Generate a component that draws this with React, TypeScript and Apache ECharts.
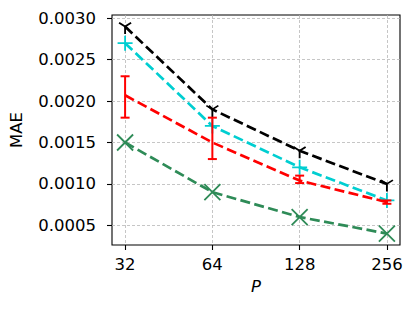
import React, { useEffect, useRef } from "react";
import * as echarts from "echarts";

const P = [32, 64, 128, 256];
const blackVals = [0.0029, 0.0019, 0.0014, 0.001];
const cyanVals = [0.0027, 0.0017, 0.0012, 0.0008];
const redVals = [0.00207, 0.0015, 0.00104, 0.00078];
const redLow = [0.0018, 0.0013, 0.00101, 0.00076];
const redHigh = [0.0023, 0.0018, 0.0011, 0.0008];
const greenVals = [0.0015, 0.0009, 0.0006, 0.0004];
const yTicks = [0.0005, 0.001, 0.0015, 0.002, 0.0025, 0.003];

const FONT = "DejaVu Sans";

export default function App() {
  const ref = useRef<HTMLDivElement>(null);
  useEffect(() => {
    document.body.style.margin = "0";
    if (!ref.current) return;
    const chart = echarts.init(ref.current, null, { renderer: "svg" });
    const lx = P.map((p) => Math.log2(p));
    const pts = (vals: number[]) => vals.map((v, i) => [lx[i], v]);
    const dash = [10, 4.4];
    const triR = 7.5;
    const option: any = {
      animation: false,
      grid: {
        left: 111,
        top: 15,
        right: 16,
        bottom: 64,
        show: true,
        borderColor: "#000",
        borderWidth: 1.1,
        backgroundColor: "transparent",
      },
      xAxis: {
        type: "value",
        min: 4.85,
        max: 8.15,
        name: "P",
        nameLocation: "middle",
        nameGap: 33,
        nameTextStyle: { fontFamily: FONT, fontSize: 16.5, fontStyle: "italic", color: "#000" },
        axisLine: { show: false },
        axisTick: {
          show: true,
          length: 5,
          customValues: lx,
          lineStyle: { color: "#000", width: 1.1 },
        },
        axisLabel: {
          customValues: lx,
          formatter: (v: number) => String(Math.round(Math.pow(2, v))),
          fontFamily: FONT,
          fontSize: 16.5,
          color: "#000",
          margin: 11,
        },
        splitLine: {
          show: true,
          lineStyle: { color: "#b8b8b8", type: [3, 2], width: 0.8 },
        },
      },
      yAxis: {
        type: "value",
        min: 0.000262,
        max: 0.00304,
        name: "MAE",
        nameLocation: "middle",
        nameGap: 87,
        nameTextStyle: { fontFamily: FONT, fontSize: 16.5, color: "#000" },
        axisLine: { show: false },
        axisTick: {
          show: true,
          length: 5,
          customValues: yTicks,
          lineStyle: { color: "#000", width: 1.1 },
        },
        axisLabel: {
          customValues: yTicks,
          formatter: (v: number) => v.toFixed(4),
          fontFamily: FONT,
          fontSize: 16.5,
          color: "#000",
          margin: 16,
        },
        splitLine: {
          show: true,
          lineStyle: { color: "#b8b8b8", type: [3, 2], width: 0.8 },
        },
      },
      series: [
        {
          name: "black",
          type: "line",
          data: pts(blackVals),
          lineStyle: { color: "#000", width: 2.7, type: dash },
          symbol: "path://M0,0L0,1M0,0L0.8,-0.5M0,0L-0.8,-0.5",
          symbolSize: [1.6 * triR, 1.5 * triR],
          symbolOffset: [0, 0.25 * triR],
          itemStyle: { color: "transparent", borderColor: "#000", borderWidth: 1.8 },
          showSymbol: true,
          z: 2,
        },
        {
          name: "cyan",
          type: "line",
          data: pts(cyanVals),
          lineStyle: { color: "#00CED1", width: 2.7, type: dash },
          symbol: "path://M0,5L10,5M5,0L5,10",
          symbolSize: 15,
          itemStyle: { color: "transparent", borderColor: "#00CED1", borderWidth: 1.8 },
          z: 3,
        },
        {
          name: "red",
          type: "line",
          data: pts(redVals),
          lineStyle: { color: "#FF0000", width: 2.7, type: dash },
          symbol: "none",
          z: 4,
        },
        {
          name: "redErr",
          type: "custom",
          data: lx.map((x, i) => [x, redLow[i], redHigh[i]]),
          renderItem: (params: any, api: any) => {
            const x = api.value(0);
            const lo = api.coord([x, api.value(1)]);
            const hi = api.coord([x, api.value(2)]);
            const cap = 4.5;
            const style = { stroke: "#FF0000", lineWidth: 2 };
            return {
              type: "group",
              children: [
                { type: "line", shape: { x1: lo[0], y1: lo[1], x2: hi[0], y2: hi[1] }, style },
                { type: "line", shape: { x1: lo[0] - cap, y1: lo[1], x2: lo[0] + cap, y2: lo[1] }, style },
                { type: "line", shape: { x1: hi[0] - cap, y1: hi[1], x2: hi[0] + cap, y2: hi[1] }, style },
              ],
            };
          },
          z: 4,
        },
        {
          name: "green",
          type: "line",
          data: pts(greenVals),
          lineStyle: { color: "#2E8B57", width: 2.7, type: dash },
          symbol: "path://M0,0L10,10M10,0L0,10",
          symbolSize: 16,
          itemStyle: { color: "transparent", borderColor: "#2E8B57", borderWidth: 1.8 },
          z: 5,
        },
      ],
    };
    chart.setOption(option);
    return () => chart.dispose();
  }, []);
  return <div ref={ref} style={{ width: 416, height: 309 }} />;
}
